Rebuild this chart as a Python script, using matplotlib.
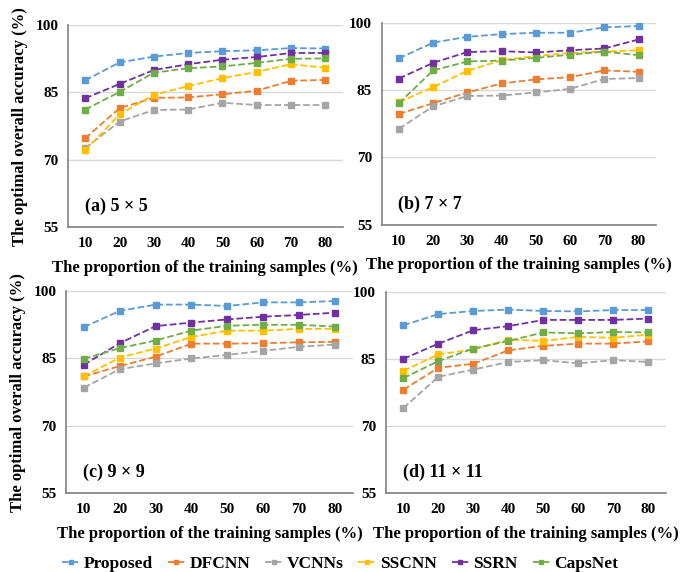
import matplotlib
matplotlib.use("Agg")
import matplotlib.pyplot as plt

plt.rcParams['font.family'] = ['Liberation Serif', 'DejaVu Serif']
plt.rcParams['font.weight'] = 'bold'

proportions = ['10', '20', '30', '40', '50', '60', '70', '80']
methods = ['Proposed', 'DFCNN', 'VCNNs', 'SSCNN', 'SSRN', 'CapsNet']
colors = ['#5B9BD5', '#ED7D31', '#A5A5A5', '#FFC000', '#7030A0', '#70AD47']

# (a) 5 x 5
acc_5 = {
    'Proposed': [87.7, 91.7, 93.0, 93.8, 94.2, 94.4, 94.9, 94.8],
    'DFCNN':    [74.8, 81.5, 83.8, 83.9, 84.6, 85.4, 87.6, 87.8],
    'VCNNs':    [72.6, 78.5, 81.1, 81.2, 82.7, 82.2, 82.2, 82.2],
    'SSCNN':    [72.1, 80.1, 84.5, 86.4, 88.2, 89.6, 91.3, 90.5],
    'SSRN':     [83.7, 86.9, 90.0, 91.3, 92.3, 92.9, 93.8, 93.8],
    'CapsNet':  [81.2, 85.1, 89.4, 90.4, 90.8, 91.6, 92.5, 92.6],
}
# (b) 7 x 7
acc_7 = {
    'Proposed': [92.1, 95.6, 96.9, 97.5, 97.8, 97.8, 99.0, 99.3],
    'DFCNN':    [79.7, 82.1, 84.5, 86.5, 87.4, 87.9, 89.4, 89.1],
    'VCNNs':    [76.4, 81.4, 83.7, 83.8, 84.5, 85.3, 87.5, 87.7],
    'SSCNN':    [82.3, 85.7, 89.3, 91.7, 92.6, 93.3, 93.6, 93.9],
    'SSRN':     [87.6, 91.1, 93.5, 93.7, 93.4, 93.9, 94.3, 96.3],
    'CapsNet':  [82.1, 89.4, 91.4, 91.6, 92.2, 92.9, 93.6, 92.8],
}
# (c) 9 x 9
acc_9 = {
    'Proposed': [92.0, 95.6, 97.0, 97.0, 96.7, 97.5, 97.5, 97.8],
    'DFCNN':    [81.0, 83.3, 85.4, 88.3, 88.3, 88.4, 88.6, 88.7],
    'VCNNs':    [78.5, 82.6, 83.9, 85.0, 85.8, 86.7, 87.6, 88.1],
    'SSCNN':    [81.0, 85.2, 87.2, 89.8, 91.2, 91.2, 91.6, 91.6],
    'SSRN':     [83.6, 88.4, 92.2, 93.0, 93.7, 94.3, 94.7, 95.2],
    'CapsNet':  [84.9, 87.3, 89.0, 91.2, 92.3, 92.5, 92.5, 92.1],
}
# (d) 11 x 11
acc_11 = {
    'Proposed': [92.5, 95.0, 95.7, 96.0, 95.7, 95.6, 95.9, 95.9],
    'DFCNN':    [78.1, 83.0, 83.9, 86.9, 87.9, 88.4, 88.4, 88.9],
    'VCNNs':    [74.0, 81.0, 82.6, 84.3, 84.7, 84.0, 84.7, 84.3],
    'SSCNN':    [82.3, 86.0, 87.1, 89.3, 89.0, 89.9, 89.7, 90.4],
    'SSRN':     [85.0, 88.4, 91.4, 92.3, 93.7, 93.7, 93.7, 94.0],
    'CapsNet':  [80.7, 84.5, 87.3, 89.0, 90.9, 90.7, 91.0, 90.9],
}

panels = [
    ('(a) 5 × 5', acc_5, [0.0996, 0.603, 0.402, 0.353]),
    ('(b) 7 × 7', acc_7, [0.559, 0.607, 0.401, 0.353]),
    ('(c) 9 × 9', acc_9, [0.0966, 0.138, 0.420, 0.353]),
    ('(d) 11 × 11', acc_11, [0.565, 0.138, 0.410, 0.352]),
]

fig = plt.figure(figsize=(6.83, 5.72), dpi=100)
x = list(range(len(proportions)))

for i, (title, acc, rect) in enumerate(panels):
    ax = fig.add_axes(rect)
    for m, c in zip(methods, colors):
        ax.plot(x, acc[m], color=c, linestyle='--', linewidth=1.3,
                marker='s', markersize=5, label=m)
    ax.set_xlim(-0.5, 7.5)
    ax.set_ylim(55, 100)
    ax.set_yticks([55, 70, 85, 100])
    ax.set_xticks(x)
    ax.set_xticklabels(proportions)
    ax.tick_params(length=0, labelsize=11, pad=7)
    for lab in ax.get_xticklabels() + ax.get_yticklabels():
        lab.set_fontweight('bold')
    ax.grid(axis='y', color='#D9D9D9', linewidth=1)
    ax.set_axisbelow(True)
    for s in ['top', 'right']:
        ax.spines[s].set_visible(False)
    for s in ['left', 'bottom']:
        ax.spines[s].set_color('#808080')
        ax.spines[s].set_linewidth(1.2)
    ax.text(0.06, 0.06, title, transform=ax.transAxes, fontsize=13,
            fontweight='bold', va='bottom', ha='left')
    ax.set_xlabel('The proportion of the training samples (%)',
                  fontsize=12, fontweight='bold', labelpad=7)
    if i % 2 == 0:
        ax.set_ylabel('The optimal overall accuracy (%)',
                      fontsize=12, fontweight='bold', labelpad=5)
    if i == 0:
        handles, labels = ax.get_legend_handles_labels()

fig.legend(handles, labels, loc='lower center', ncol=6,
           bbox_to_anchor=(0.498, -0.027), frameon=False,
           handlelength=1.0, handletextpad=0.25, columnspacing=0.85,
           markerscale=0.6, prop={'size': 12.5, 'weight': 'bold'})

fig.savefig('out.png', dpi=100)
